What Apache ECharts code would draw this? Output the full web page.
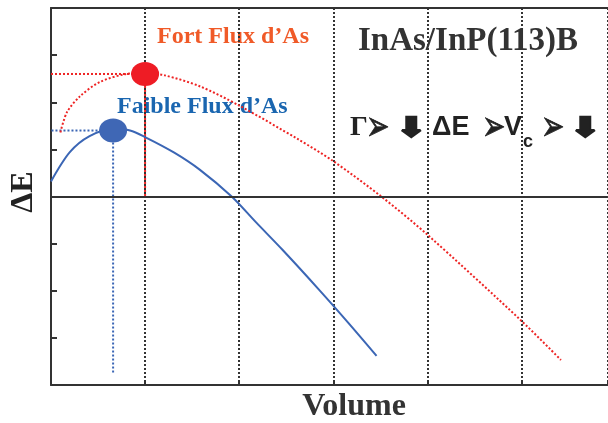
<!DOCTYPE html>
<html>
<head>
<meta charset="utf-8">
<script src="https://cdn.jsdelivr.net/npm/echarts@6/dist/echarts.min.js"></script>
<style>html,body{margin:0;padding:0;background:#fff}#chart{width:608px;height:423px}</style>
</head>
<body>
<div id="chart"></div>
<script>
// ---- data ----
var volumeBlue = [0, 0.2, 0.41, 0.66, 0.84, 1.01, 1.31, 1.58, 1.92, 2.18, 2.46, 2.85, 3.16, 3.46];
var deltaEBlue = [0.32, 0.94, 1.28, 1.43, 1.40, 1.25, 0.93, 0.57, 0, -0.55, -1.13, -1.98, -2.68, -3.38];
var volumeRed  = [0.1, 0.17, 0.31, 0.52, 0.80, 1.0, 1.21, 1.58, 2.0, 2.63, 3.0, 3.51, 4.0, 4.99, 5.42];
var deltaERed  = [1.36, 1.79, 2.13, 2.43, 2.6, 2.62, 2.57, 2.34, 1.93, 1.21, 0.75, 0, -0.81, -2.62, -3.47];
var redPeak  = [1.0, 2.6];     // Fort Flux d'As maximum
var bluePeak = [0.66, 1.4];    // Faible Flux d'As maximum
var redGuideFrom = 0;          // horizontal guide start (volume)
var redGuideTo = 0;            // vertical guide end (deltaE)
var blueGuideFrom = -0.08;
var blueGuideTo = -3.75;
var xMin = 0, xMax = 5.92, yMin = -4, yMax = 4;
var labels = {
  red: "Fort Flux d\u2019As",
  blue: "Faible Flux d\u2019As",
  sample: "InAs/InP(113)B",
  xName: "Volume",
  yName: "\u0394E"
};

function pairs(xs, ys){ return xs.map(function(x,i){ return [x, ys[i]]; }); }

var serif = '"Liberation Serif","Times New Roman",serif';
var sans = '"Liberation Sans",Arial,sans-serif';
var sym = '"DejaVu Sans",sans-serif';
var dark = '#333';
var ink = '#222';
var redC = '#ee2424', blueC = '#3b66b5';

function arrowHead(x){ return {type: 'text', x: x, y: 129, scaleY: 1.5, style: {text: '\u27A2', font: '28px ' + sym, fill: ink, stroke: ink, lineWidth: 0.5, verticalAlign: 'middle'}}; }
function downArrow(x){ return {type: 'text', x: x, y: 129, scaleX: 1.4, style: {text: '\u2B07', font: '26px ' + sym, fill: ink, stroke: ink, lineWidth: 2.6, lineJoin: 'miter', verticalAlign: 'middle'}}; }

var chart = echarts.init(document.getElementById('chart'), null, {renderer:'canvas'});
chart.setOption({
  animation: false,
  backgroundColor: '#fff',
  grid: {left: 51, right: -2, top: 8, bottom: 38},
  xAxis: [{
    type: 'value', position: 'bottom', min: xMin, max: xMax, interval: 1,
    axisLine: {onZero: false, lineStyle: {color: dark, width: 2}},
    axisTick: {show: true, inside: true, length: 3, lineStyle: {color: dark, width: 2}},
    axisLabel: {show: false},
    splitLine: {show: true, lineStyle: {type: 'dotted', color: dark, width: 2}}
  }, {
    type: 'value', position: 'top', min: xMin, max: xMax, interval: 1,
    axisLine: {onZero: false, lineStyle: {color: dark, width: 2}},
    axisTick: {show: false}, axisLabel: {show: false}, splitLine: {show: false}
  }],
  yAxis: {
    type: 'value', min: yMin, max: yMax, interval: 1,
    axisLine: {show: true, lineStyle: {color: dark, width: 2}},
    axisTick: {show: true, inside: true, length: 6, lineStyle: {color: dark, width: 2}},
    axisLabel: {show: false}, splitLine: {show: false}
  },
  series: [
    {
      type: 'line', name: 'zero', data: [], silent: true,
      markLine: {silent: true, symbol: 'none', label: {show: false},
        lineStyle: {color: dark, width: 2, type: 'solid'}, data: [{yAxis: 0}]}
    },
    {type: 'line', data: [[redGuideFrom, redPeak[1]], redPeak], symbol: 'none', silent: true,
      lineStyle: {color: redC, width: 2, type: 'dotted'}},
    {type: 'line', data: [redPeak, [redPeak[0], redGuideTo]], symbol: 'none', silent: true, z: 3,
      lineStyle: {color: redC, width: 2, type: 'dotted'}},
    {type: 'line', data: [[blueGuideFrom, bluePeak[1]], bluePeak], symbol: 'none', silent: true, clip: false,
      lineStyle: {color: blueC, width: 2, type: 'dotted'}},
    {type: 'line', data: [bluePeak, [bluePeak[0], blueGuideTo]], symbol: 'none', silent: true,
      lineStyle: {color: blueC, width: 2, type: 'dotted'}},
    {type: 'line', name: labels.red, data: pairs(volumeRed, deltaERed), smooth: 0.3, symbol: 'none',
      lineStyle: {color: redC, width: 2, type: 'dotted'}},
    {type: 'line', name: labels.blue, data: pairs(volumeBlue, deltaEBlue), smooth: 0.3, symbol: 'none',
      lineStyle: {color: blueC, width: 2}},
    {type: 'scatter', data: [redPeak], symbol: 'circle', symbolSize: [28, 24], z: 5,
      itemStyle: {color: '#ee1c25', opacity: 1}},
    {type: 'scatter', data: [bluePeak], symbol: 'circle', symbolSize: [28, 24], z: 5,
      itemStyle: {color: '#3f67b5', opacity: 1}}
  ],
  graphic: [
    {type: 'text', left: 157, top: 25, style: {text: labels.red, font: 'bold 24px ' + serif, fill: '#f05a28'}},
    {type: 'text', left: 117, top: 95, style: {text: labels.blue, font: 'bold 24px ' + serif, fill: '#1a66b0'}},
    {type: 'text', left: 358, top: 25, style: {text: labels.sample, font: 'bold 33px ' + serif, fill: dark}},
    {type: 'text', x: 354, y: 407, style: {text: labels.xName, font: 'bold 32px ' + serif, fill: dark, align: 'center', verticalAlign: 'middle'}},
    {type: 'text', x: 24, y: 192, rotation: Math.PI/2, style: {text: labels.yName, font: 'bold 32px ' + serif, fill: ink, align: 'center', verticalAlign: 'middle'}},
    {type: 'text', x: 350, y: 128, style: {text: '\u0393', font: 'bold 28px ' + serif, fill: ink, verticalAlign: 'middle'}},
    arrowHead(366),
    downArrow(396),
    {type: 'text', x: 432, y: 128, style: {text: '\u0394E', font: 'bold 27px ' + sans, fill: ink, verticalAlign: 'middle'}},
    arrowHead(482),
    {type: 'text', x: 504, y: 128, style: {text: 'V', font: 'bold 27px ' + sans, fill: ink, verticalAlign: 'middle'}},
    {type: 'text', x: 523, y: 142, style: {text: 'c', font: 'bold 18px ' + sans, fill: ink, verticalAlign: 'middle'}},
    arrowHead(541),
    downArrow(570)
  ]
});
</script>
</body>
</html>
